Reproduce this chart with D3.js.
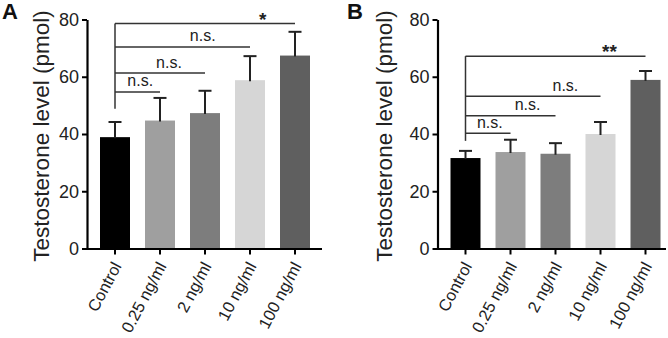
<!DOCTYPE html>
<html>
<head>
<meta charset="utf-8">
<script src="https://cdn.jsdelivr.net/npm/d3@7"></script>
<style>
  html, body { margin: 0; padding: 0; background: #fff; }
  svg { display: block; font-family: "Liberation Sans", Arial, sans-serif; }
</style>
</head>
<body>
<svg id="chart" width="668" height="338"></svg>
<script>
// ---- data ----
const categories = ["Control", "0.25 ng/ml", "2 ng/ml", "10 ng/ml", "100 ng/ml"];
const yTicks = [0, 20, 40, 60, 80];
const barColors = ["#000000", "#9f9f9f", "#7d7d7d", "#d6d6d6", "#5f5f5f"];

const meanA = [38.9, 44.7, 47.3, 58.8, 67.4];
const semA  = [5.3, 7.9, 7.8, 8.4, 8.3];
const sigA  = ["n.s.", "n.s.", "n.s.", "*"];
const bracketA = [54.7, 61.3, 70.4, 78.6];
const bracketBaseA = 48.8;

const meanB = [31.6, 33.7, 33.1, 40.0, 58.9];
const semB  = [2.5, 4.3, 3.7, 4.2, 3.1];
const sigB  = ["n.s.", "n.s.", "n.s.", "**"];
const bracketB = [40.3, 46.4, 53.2, 67.2];
const bracketBaseB = 37.6;

const yLabel = "Testosterone level (pmol)";

// ---- drawing ----
const svg = d3.select("#chart");

function drawPanel(opt) {
  const y = d3.scaleLinear().domain([0, 80]).range([248.5, 19.5]);
  const x = d3.scaleBand().domain(categories)
    .range([opt.axisX + 5.5, opt.axisX + 230.5])
    .paddingInner(1 / 3).paddingOuter(1 / 6);
  const g = svg.append("g");

  // bars
  g.selectAll("rect.bar").data(opt.mean).join("rect")
    .attr("class", "bar")
    .attr("x", (d, i) => x(categories[i]))
    .attr("width", x.bandwidth())
    .attr("y", d => y(d))
    .attr("height", d => y(0) - y(d))
    .attr("fill", (d, i) => barColors[i]);

  // error bars (upper only)
  const cx = i => x(categories[i]) + x.bandwidth() / 2;
  const eg = g.selectAll("g.err").data(opt.mean).join("g").attr("class", "err");
  eg.append("line")
    .attr("x1", (d, i) => cx(i)).attr("x2", (d, i) => cx(i))
    .attr("y1", d => y(d) + 1).attr("y2", (d, i) => y(d + opt.sem[i]))
    .attr("stroke", "#222").attr("stroke-width", 2);
  eg.append("line")
    .attr("x1", (d, i) => cx(i) - 6.5).attr("x2", (d, i) => cx(i) + 6.5)
    .attr("y1", (d, i) => y(d + opt.sem[i])).attr("y2", (d, i) => y(d + opt.sem[i]))
    .attr("stroke", "#222").attr("stroke-width", 2);

  // comparison brackets
  const topLevel = d3.max(opt.bracket);
  g.append("line")
    .attr("x1", cx(0)).attr("x2", cx(0))
    .attr("y1", y(opt.bracketBase)).attr("y2", y(topLevel))
    .attr("stroke", "#333").attr("stroke-width", 1.5);
  opt.bracket.forEach((lv, k) => {
    g.append("line")
      .attr("x1", cx(0)).attr("x2", cx(k + 1))
      .attr("y1", y(lv)).attr("y2", y(lv))
      .attr("stroke", "#333").attr("stroke-width", 1.5);
    const lx = cx(0) + opt.labelFrac[k] * (cx(k + 1) - cx(0));
    const isStar = opt.sig[k].startsWith("*");
    g.append("text")
      .attr("x", lx)
      .attr("y", isStar ? y(lv) - 10 : y(lv) - 5.5)
      .attr("text-anchor", "middle")
      .attr("dominant-baseline", isStar ? "central" : "alphabetic")
      .attr("font-size", isStar ? 19 : 16)
      .attr("font-weight", isStar ? "bold" : "normal")
      .attr("dy", isStar ? "0.3em" : 0)
      .attr("fill", "#222")
      .text(opt.sig[k]);
  });

  // y axis
  const yAxis = g.append("g")
    .attr("transform", `translate(${opt.axisX},0)`)
    .call(d3.axisLeft(y).tickValues(yTicks).tickSize(5).tickSizeOuter(0).tickPadding(3));
  yAxis.select(".domain").attr("stroke", "#000").attr("stroke-width", 2.2);
  yAxis.selectAll(".tick line").attr("stroke", "#000").attr("stroke-width", 2);
  yAxis.selectAll(".tick text").attr("font-size", 18).attr("fill", "#222")
    .attr("font-family", "Liberation Sans, Arial, sans-serif");

  // x axis
  const xAxis = g.append("g")
    .attr("transform", `translate(0,${y(0)})`)
    .call(d3.axisBottom(x).tickSize(6).tickSizeOuter(0));
  xAxis.select(".domain").attr("stroke", "#000").attr("stroke-width", 2.2)
    .attr("d", `M${opt.axisX - 1},0.5H${opt.axisEnd}`);
  xAxis.selectAll(".tick line").attr("stroke", "#000").attr("stroke-width", 2);
  xAxis.selectAll(".tick text")
    .attr("font-size", 16.5).attr("fill", "#222")
    .attr("font-family", "Liberation Sans, Arial, sans-serif")
    .attr("text-anchor", "end")
    .attr("x", 0).attr("y", 0).attr("dy", 0)
    .attr("transform", "translate(7,17.5) rotate(-62)");

  // y label
  g.append("text")
    .attr("transform", `translate(${opt.labelX},${136}) rotate(-90)`)
    .attr("text-anchor", "middle")
    .attr("font-size", 22.5).attr("fill", "#222")
    .text(yLabel);

  // panel letter
  g.append("text")
    .attr("x", opt.letterX).attr("y", 19)
    .attr("font-size", 22).attr("font-weight", "bold").attr("fill", "#111")
    .text(opt.letter);
}

drawPanel({
  letter: "A", letterX: 2, axisX: 87, axisEnd: 322, labelX: 49,
  mean: meanA, sem: semA, sig: sigA, bracket: bracketA, bracketBase: bracketBaseA,
  labelFrac: [0.56, 0.6, 0.65, 0.82]
});
drawPanel({
  letter: "B", letterX: 347, axisX: 437.5, axisEnd: 666, labelX: 392,
  mean: meanB, sem: semB, sig: sigB, bracket: bracketB, bracketBase: bracketBaseB,
  labelFrac: [0.54, 0.69, 0.74, 0.8]
});
</script>
</body>
</html>
